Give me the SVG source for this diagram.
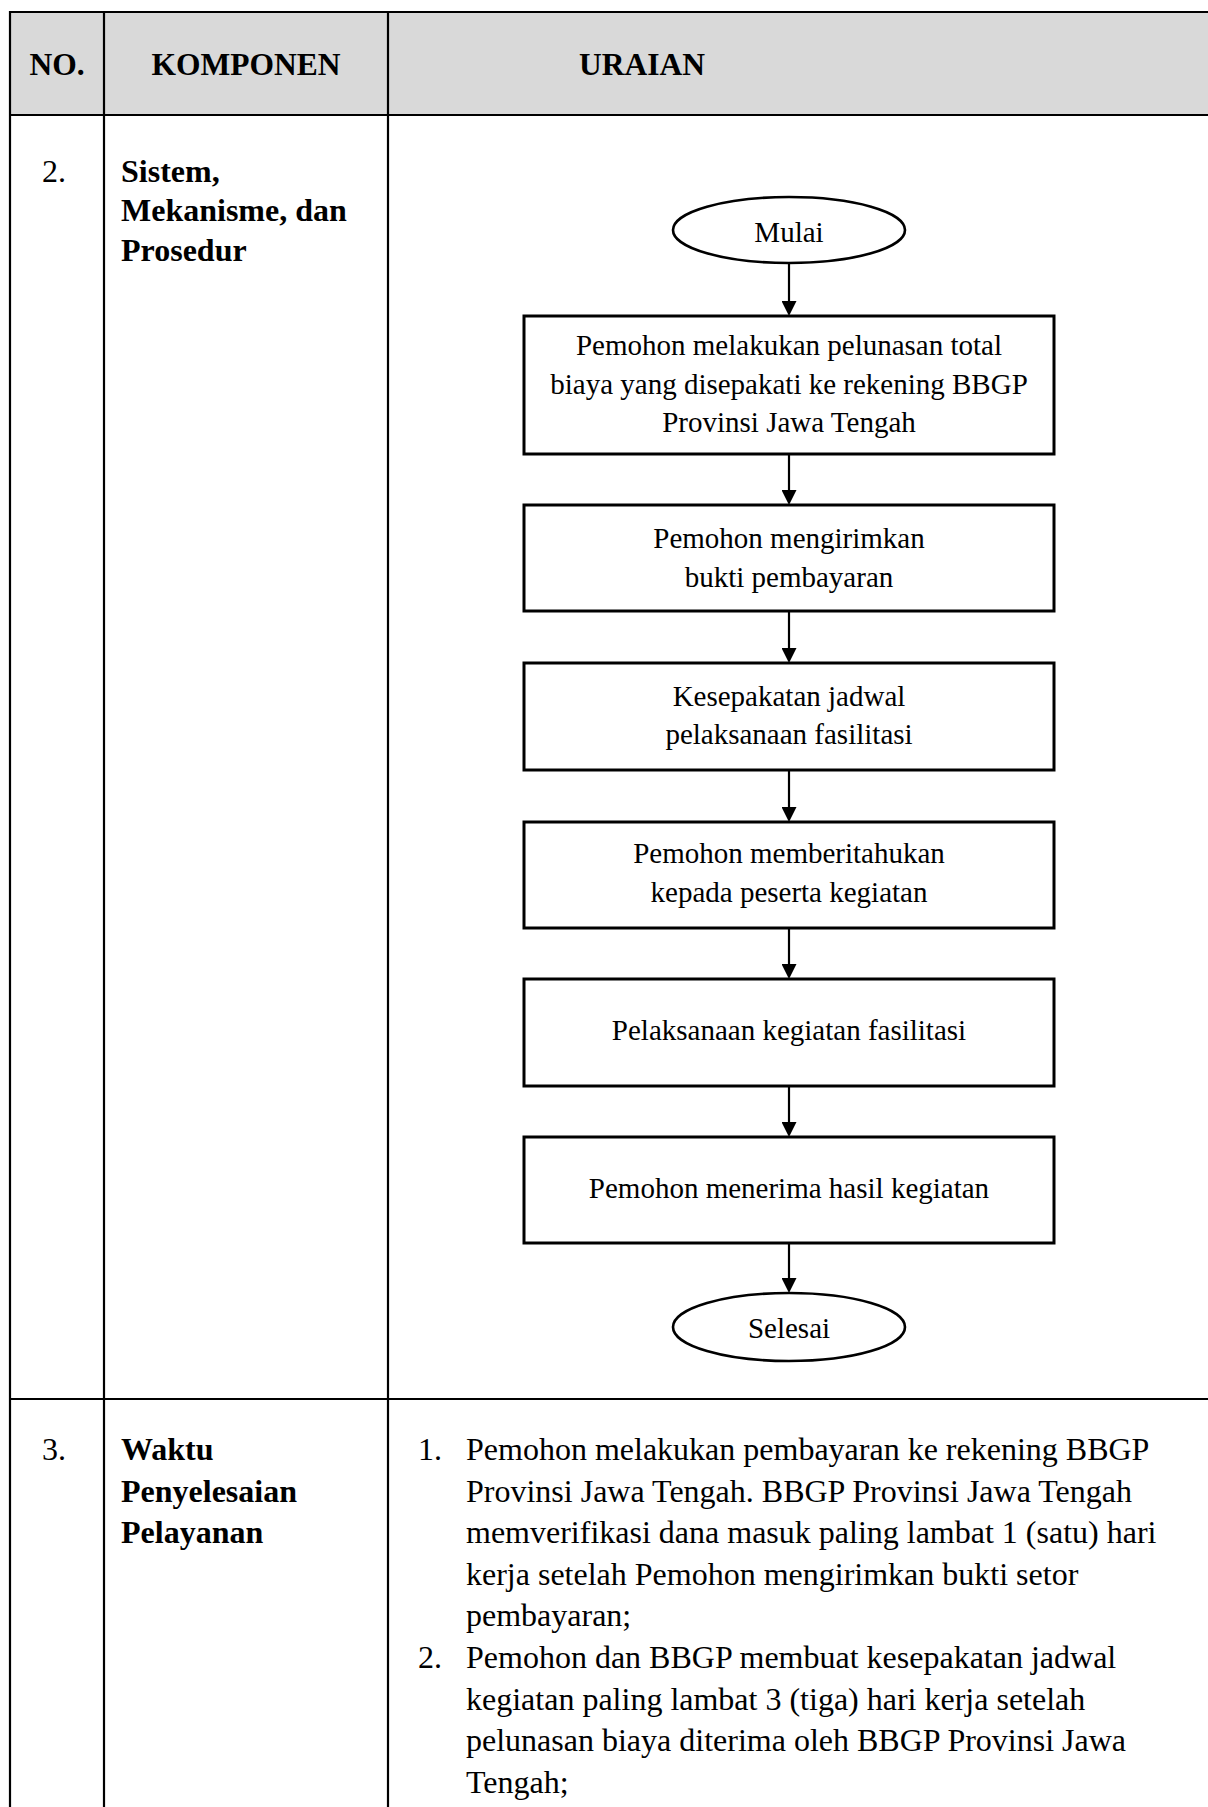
<svg xmlns="http://www.w3.org/2000/svg" width="1208" height="1807" viewBox="0 0 1208 1807">
<style>
.hdr{font-family:"Liberation Serif","Times New Roman",serif;font-weight:bold;font-size:31.5px;fill:#000}
.cell{font-family:"Liberation Serif","Times New Roman",serif;font-size:32px;fill:#000}
.cellb{font-family:"Liberation Serif","Times New Roman",serif;font-weight:bold;font-size:32px;fill:#000}
.fl{font-family:"Liberation Serif","Times New Roman",serif;font-size:29px;fill:#000;text-anchor:middle}
.box{fill:#fff;stroke:#000;stroke-width:3}
.oval{fill:#fff;stroke:#000;stroke-width:2.6}
.tl{stroke:#000;stroke-width:2.2;fill:none}
.conn{stroke:#000;stroke-width:2.2;fill:none}
</style>
<defs>
<marker id="ah" viewBox="0 0 15 15" refX="2" refY="7.5" markerWidth="15" markerHeight="15" orient="auto" markerUnits="userSpaceOnUse">
<path d="M0,0 L15,7.5 L0,15 Z" fill="#000"/>
</marker>
</defs>
<rect x="0" y="0" width="1208" height="1807" fill="#fff"/>
<g id="table">
<rect x="10" y="12" width="1198" height="103" fill="#d9d9d9"/>
<line class="tl" x1="10" y1="12" x2="1208" y2="12"/>
<line class="tl" x1="10" y1="115" x2="1208" y2="115"/>
<line class="tl" x1="10" y1="1399" x2="1208" y2="1399"/>
<line class="tl" x1="10" y1="11" x2="10" y2="1807"/>
<line class="tl" x1="104" y1="11" x2="104" y2="1807"/>
<line class="tl" x1="388" y1="11" x2="388" y2="1807"/>
<text class="hdr" x="57" y="75" text-anchor="middle">NO.</text>
<text class="hdr" x="246" y="75" text-anchor="middle">KOMPONEN</text>
<text class="hdr" x="642" y="75" text-anchor="middle">URAIAN</text>
<text class="cell" x="42" y="182">2.</text>
<text class="cellb" x="121" y="182">Sistem,</text>
<text class="cellb" x="121" y="221">Mekanisme, dan</text>
<text class="cellb" x="121" y="261">Prosedur</text>
<text class="cell" x="42" y="1460">3.</text>
<text class="cellb" x="121" y="1460">Waktu</text>
<text class="cellb" x="121" y="1502">Penyelesaian</text>
<text class="cellb" x="121" y="1543">Pelayanan</text>
<text class="cell" x="418" y="1460">1.</text>
<text class="cell" x="466" y="1460">Pemohon melakukan pembayaran ke rekening BBGP</text>
<text class="cell" x="466" y="1502">Provinsi Jawa Tengah. BBGP Provinsi Jawa Tengah</text>
<text class="cell" x="466" y="1543">memverifikasi dana masuk paling lambat 1 (satu) hari</text>
<text class="cell" x="466" y="1585">kerja setelah Pemohon mengirimkan bukti setor</text>
<text class="cell" x="466" y="1626">pembayaran;</text>
<text class="cell" x="418" y="1668">2.</text>
<text class="cell" x="466" y="1668">Pemohon dan BBGP membuat kesepakatan jadwal</text>
<text class="cell" x="466" y="1710">kegiatan paling lambat 3 (tiga) hari kerja setelah</text>
<text class="cell" x="466" y="1751">pelunasan biaya diterima oleh BBGP Provinsi Jawa</text>
<text class="cell" x="466" y="1793">Tengah;</text>
</g>
<g id="connectors">
<line class="conn" x1="789" y1="263" x2="789" y2="303" marker-end="url(#ah)"/>
<line class="conn" x1="789" y1="454" x2="789" y2="492" marker-end="url(#ah)"/>
<line class="conn" x1="789" y1="611" x2="789" y2="650" marker-end="url(#ah)"/>
<line class="conn" x1="789" y1="770" x2="789" y2="809" marker-end="url(#ah)"/>
<line class="conn" x1="789" y1="928" x2="789" y2="966" marker-end="url(#ah)"/>
<line class="conn" x1="789" y1="1086" x2="789" y2="1124" marker-end="url(#ah)"/>
<line class="conn" x1="789" y1="1243" x2="789" y2="1280" marker-end="url(#ah)"/>
</g>
<g id="mulai">
<ellipse class="oval" cx="789" cy="230" rx="116" ry="33"/>
<text class="fl" x="789" y="242">Mulai</text>
</g>
<g id="step1">
<rect class="box" x="524" y="316" width="530" height="138"/>
<text class="fl" x="789" y="355">Pemohon melakukan pelunasan total</text>
<text class="fl" x="789" y="394">biaya yang disepakati ke rekening BBGP</text>
<text class="fl" x="789" y="432">Provinsi Jawa Tengah</text>
</g>
<g id="step2">
<rect class="box" x="524" y="505" width="530" height="106"/>
<text class="fl" x="789" y="548">Pemohon mengirimkan</text>
<text class="fl" x="789" y="587">bukti pembayaran</text>
</g>
<g id="step3">
<rect class="box" x="524" y="663" width="530" height="107"/>
<text class="fl" x="789" y="706">Kesepakatan jadwal</text>
<text class="fl" x="789" y="744">pelaksanaan fasilitasi</text>
</g>
<g id="step4">
<rect class="box" x="524" y="822" width="530" height="106"/>
<text class="fl" x="789" y="863">Pemohon memberitahukan</text>
<text class="fl" x="789" y="902">kepada peserta kegiatan</text>
</g>
<g id="step5">
<rect class="box" x="524" y="979" width="530" height="107"/>
<text class="fl" x="789" y="1040">Pelaksanaan kegiatan fasilitasi</text>
</g>
<g id="step6">
<rect class="box" x="524" y="1137" width="530" height="106"/>
<text class="fl" x="789" y="1198">Pemohon menerima hasil kegiatan</text>
</g>
<g id="selesai">
<ellipse class="oval" cx="789" cy="1327" rx="116" ry="34"/>
<text class="fl" x="789" y="1338">Selesai</text>
</g>
</svg>
